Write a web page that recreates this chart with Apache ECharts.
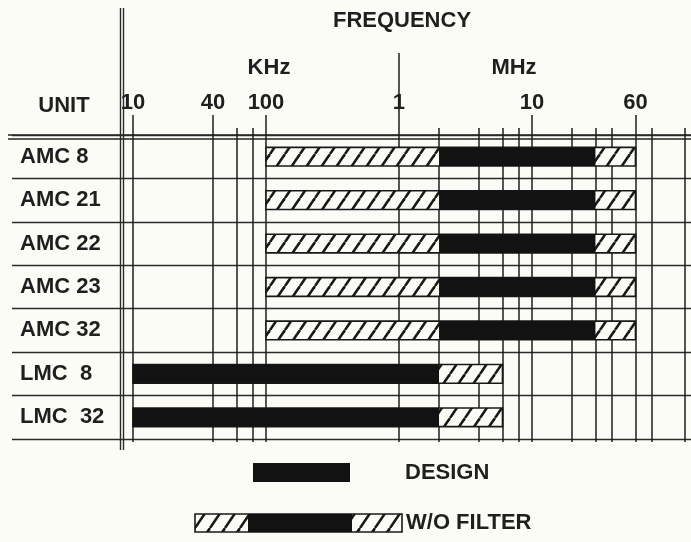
<!DOCTYPE html>
<html><head><meta charset="utf-8">
<script src="https://cdn.jsdelivr.net/npm/echarts@6/dist/echarts.min.js"></script>
<style>html,body{margin:0;padding:0;background:#fcfcf7}#c{width:691px;height:542px}</style>
</head><body><div id="c"></div>
<script>
// ---- data (frequencies in Hz) ----
const units = ['AMC 8', 'AMC 21', 'AMC 22', 'AMC 23', 'AMC 32', 'LMC  8', 'LMC  32'];
const withoutFilterLow  = [100e3, 100e3, 100e3, 100e3, 100e3, 10e3, 10e3];
const withoutFilterHigh = [60e6, 60e6, 60e6, 60e6, 60e6, 6e6, 6e6];
const designLow  = [2e6, 2e6, 2e6, 2e6, 2e6, 10e3, 10e3];
const designHigh = [30e6, 30e6, 30e6, 30e6, 30e6, 2e6, 2e6];
const gridFreqs = [10e3, 40e3, 60e3, 80e3, 100e3, 1e6, 2e6, 4e6, 6e6, 8e6, 10e6, 20e6, 30e6, 40e6, 60e6, 80e6, 140e6];
const tickFreqs = [10e3, 40e3, 100e3, 1e6, 10e6, 60e6];
const tickLabels = ['10', '40', '100', '1', '10', '60'];
const axisMin = 8268, axisMax = 1.5686e8;

const BG = '#fcfcf7', INK = '#181818', TXT = '#1f1f1f';
const FONT = '"Liberation Sans", Arial, sans-serif';

function makeHatch() {
  const c = document.createElement('canvas');
  c.width = 15; c.height = 22;
  const g = c.getContext('2d');
  g.fillStyle = BG; g.fillRect(0, 0, 15, 22);
  g.strokeStyle = INK; g.lineWidth = 2.6;
  for (const dx of [-15, 0, 15]) {
    g.beginPath(); g.moveTo(dx, 22); g.lineTo(dx + 15, 0); g.stroke();
  }
  return c;
}
const hatch = makeHatch();
const hatchFill = { image: hatch, repeat: 'repeat' };

const barData = units.map((u, i) => [i, withoutFilterLow[i], withoutFilterHigh[i], designLow[i], designHigh[i]]);

const gridLines = gridFreqs.map(f => [{ xAxis: f, y: 128 }, { xAxis: f, y: 442 }]);
const tickLines = tickFreqs.map((f, i) => [
  { xAxis: f, y: 115, label: { show: true, position: 'start', distance: 1, formatter: tickLabels[i],
      fontSize: 22, fontWeight: 'bold', fontFamily: FONT, color: TXT } },
  { xAxis: f, y: 128 }
]);
const mhzDivider = [[{ xAxis: 1e6, y: 53 }, { xAxis: 1e6, y: 115 }]];

const chart = echarts.init(document.getElementById('c'), null, { renderer: 'canvas' });
chart.setOption({
  backgroundColor: BG,
  animation: false,
  grid: [
    { left: 12, top: 135, width: 110, bottom: 103 },
    { left: 122, top: 135, right: 0, bottom: 103 }
  ],
  xAxis: [
    { gridIndex: 0, type: 'value', show: false },
    { gridIndex: 1, type: 'log', min: axisMin, max: axisMax, show: false }
  ],
  yAxis: [
    { gridIndex: 0, type: 'category', data: units, inverse: true,
      axisLine: { show: false }, axisTick: { show: false },
      axisLabel: { inside: true, margin: 8, fontSize: 22, fontWeight: 'bold', fontFamily: FONT, color: TXT },
      splitLine: { show: true, interval: 0, lineStyle: { color: '#2a2a2a', width: 1.3 } } },
    { gridIndex: 1, type: 'category', data: units, inverse: true,
      axisLine: { show: false }, axisTick: { show: false }, axisLabel: { show: false },
      splitLine: { show: true, interval: 0, lineStyle: { color: '#2a2a2a', width: 1.3 } } }
  ],
  series: [
    {
      type: 'line', xAxisIndex: 1, yAxisIndex: 1, data: [], z: 1, silent: true,
      markLine: {
        silent: true, symbol: ['none', 'none'], animation: false,
        emphasis: { disabled: true },
        label: { show: false },
        lineStyle: { color: '#1e1e1e', width: 1.5, type: 'solid' },
        data: gridLines.concat(tickLines, mhzDivider)
      }
    },
    {
      type: 'custom', xAxisIndex: 1, yAxisIndex: 1, z: 10, silent: true,
      data: barData,
      encode: { x: [1, 2, 3, 4], y: 0 },
      renderItem: function (params, api) {
        const yi = api.value(0);
        const band = api.size([0, 1])[1];
        const h = band * 0.43;
        const a = api.coord([api.value(1), yi]);
        const b = api.coord([api.value(2), yi]);
        const c = api.coord([api.value(3), yi]);
        const d = api.coord([api.value(4), yi]);
        return { type: 'group', children: [
          { type: 'rect', shape: { x: a[0], y: a[1] - h / 2, width: b[0] - a[0], height: h },
            style: { fill: hatchFill, stroke: INK, lineWidth: 1.6 } },
          { type: 'rect', shape: { x: c[0], y: c[1] - h / 2, width: d[0] - c[0], height: h },
            style: { fill: '#121212' } }
        ] };
      }
    }
  ],
  graphic: [
    { type: 'line', shape: { x1: 120.5, y1: 8, x2: 120.5, y2: 450 }, style: { stroke: '#2a2a2a', lineWidth: 1.4 }, silent: true },
    { type: 'line', shape: { x1: 123.5, y1: 8, x2: 123.5, y2: 450 }, style: { stroke: '#2a2a2a', lineWidth: 1.4 }, silent: true },
    { type: 'line', shape: { x1: 8, y1: 135, x2: 691, y2: 135 }, style: { stroke: '#222', lineWidth: 1.4 }, silent: true },
    { type: 'line', shape: { x1: 8, y1: 139, x2: 691, y2: 139 }, style: { stroke: '#222', lineWidth: 1.4 }, silent: true },
    { type: 'text', style: { text: 'FREQUENCY', x: 402, y: 21, align: 'center', verticalAlign: 'middle', font: 'bold 22px ' + FONT, fill: TXT } },
    { type: 'text', style: { text: 'KHz', x: 269, y: 68, align: 'center', verticalAlign: 'middle', font: 'bold 22px ' + FONT, fill: TXT } },
    { type: 'text', style: { text: 'MHz', x: 514, y: 68, align: 'center', verticalAlign: 'middle', font: 'bold 22px ' + FONT, fill: TXT } },
    { type: 'text', style: { text: 'UNIT', x: 64, y: 106, align: 'center', verticalAlign: 'middle', font: 'bold 22px ' + FONT, fill: TXT } },
    // legend
    { type: 'rect', shape: { x: 253, y: 463, width: 97, height: 19 }, style: { fill: '#121212' } },
    { type: 'text', style: { text: 'DESIGN', x: 405, y: 473, align: 'left', verticalAlign: 'middle', font: 'bold 22px ' + FONT, fill: TXT } },
    { type: 'rect', shape: { x: 195, y: 514, width: 207, height: 18 }, style: { fill: hatchFill, stroke: INK, lineWidth: 1.6 } },
    { type: 'rect', shape: { x: 248, y: 514, width: 104, height: 18 }, style: { fill: '#121212' } },
    { type: 'text', style: { text: 'W/O FILTER', x: 406, y: 523, align: 'left', verticalAlign: 'middle', font: 'bold 22px ' + FONT, fill: TXT } }
  ]
});
</script>
</body></html>
